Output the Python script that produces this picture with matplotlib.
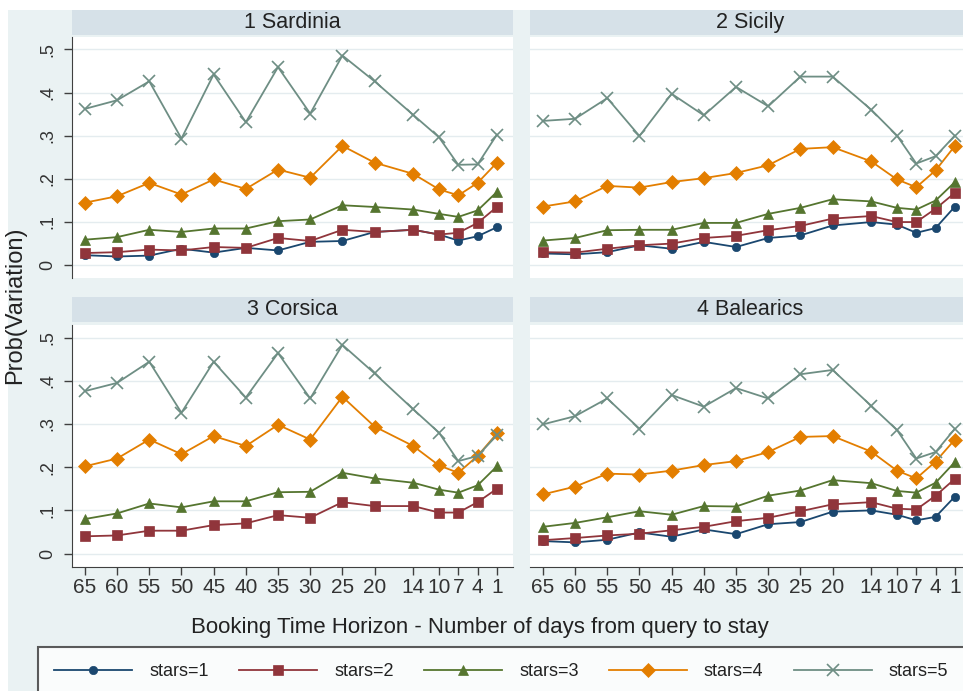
import numpy as np
import matplotlib
matplotlib.use("Agg")
import matplotlib.pyplot as plt
from matplotlib.patches import Rectangle
from matplotlib.lines import Line2D

plt.rcParams['font.family'] = ['Liberation Sans', 'DejaVu Sans']

# ── data ─────────────────────────────────────────────────────────────────────
days = [65, 60, 55, 50, 45, 40, 35, 30, 25, 20, 14, 10, 7, 4, 1]
regions = ['1 Sardinia', '2 Sicily', '3 Corsica', '4 Balearics']
star_labels = ['stars=1', 'stars=2', 'stars=3', 'stars=4', 'stars=5']

sardinia_s1 = [0.022, 0.019, 0.021, 0.037, 0.028, 0.039, 0.033, 0.053, 0.055, 0.076, 0.081, 0.070, 0.056, 0.066, 0.087]
sardinia_s2 = [0.027, 0.029, 0.035, 0.033, 0.041, 0.039, 0.062, 0.055, 0.081, 0.076, 0.081, 0.070, 0.074, 0.097, 0.134]
sardinia_s3 = [0.058, 0.064, 0.081, 0.076, 0.084, 0.084, 0.101, 0.105, 0.138, 0.134, 0.128, 0.118, 0.111, 0.126, 0.169]
sardinia_s4 = [0.144, 0.159, 0.190, 0.163, 0.198, 0.176, 0.221, 0.202, 0.276, 0.237, 0.211, 0.175, 0.161, 0.190, 0.237]
sardinia_s5 = [0.362, 0.382, 0.426, 0.293, 0.442, 0.331, 0.459, 0.351, 0.486, 0.426, 0.348, 0.296, 0.232, 0.233, 0.302]

sicily_s1 = [0.026, 0.024, 0.029, 0.045, 0.037, 0.053, 0.041, 0.062, 0.068, 0.091, 0.099, 0.093, 0.074, 0.085, 0.135]
sicily_s2 = [0.029, 0.028, 0.037, 0.045, 0.049, 0.062, 0.067, 0.080, 0.090, 0.107, 0.113, 0.099, 0.099, 0.130, 0.167]
sicily_s3 = [0.056, 0.062, 0.080, 0.081, 0.081, 0.097, 0.097, 0.118, 0.132, 0.152, 0.147, 0.132, 0.128, 0.149, 0.192]
sicily_s4 = [0.135, 0.147, 0.183, 0.179, 0.192, 0.201, 0.213, 0.231, 0.269, 0.273, 0.240, 0.198, 0.180, 0.219, 0.276]
sicily_s5 = [0.334, 0.339, 0.387, 0.299, 0.397, 0.347, 0.413, 0.368, 0.437, 0.437, 0.360, 0.300, 0.235, 0.252, 0.300]

# no 1-star series for Corsica
corsica_s1 = None
corsica_s2 = [0.040, 0.042, 0.053, 0.053, 0.066, 0.070, 0.089, 0.083, 0.119, 0.110, 0.110, 0.095, 0.095, 0.119, 0.150]
corsica_s3 = [0.080, 0.093, 0.116, 0.107, 0.121, 0.121, 0.142, 0.143, 0.187, 0.174, 0.164, 0.148, 0.141, 0.158, 0.202]
corsica_s4 = [0.202, 0.220, 0.264, 0.230, 0.272, 0.249, 0.298, 0.264, 0.363, 0.294, 0.249, 0.204, 0.187, 0.226, 0.278]
corsica_s5 = [0.376, 0.395, 0.444, 0.326, 0.444, 0.361, 0.464, 0.359, 0.483, 0.417, 0.334, 0.280, 0.214, 0.226, 0.274]

balearics_s1 = [0.029, 0.026, 0.032, 0.049, 0.039, 0.056, 0.045, 0.068, 0.073, 0.097, 0.100, 0.090, 0.077, 0.085, 0.132]
balearics_s2 = [0.031, 0.036, 0.042, 0.046, 0.054, 0.062, 0.075, 0.083, 0.098, 0.114, 0.119, 0.104, 0.102, 0.134, 0.173]
balearics_s3 = [0.062, 0.071, 0.084, 0.098, 0.090, 0.110, 0.109, 0.134, 0.146, 0.170, 0.163, 0.145, 0.141, 0.164, 0.212]
balearics_s4 = [0.137, 0.155, 0.185, 0.183, 0.192, 0.205, 0.214, 0.235, 0.270, 0.272, 0.236, 0.192, 0.174, 0.213, 0.264]
balearics_s5 = [0.299, 0.318, 0.359, 0.289, 0.367, 0.340, 0.383, 0.359, 0.415, 0.425, 0.342, 0.286, 0.220, 0.235, 0.289]

series = {
    '1 Sardinia': [sardinia_s1, sardinia_s2, sardinia_s3, sardinia_s4, sardinia_s5],
    '2 Sicily': [sicily_s1, sicily_s2, sicily_s3, sicily_s4, sicily_s5],
    '3 Corsica': [corsica_s1, corsica_s2, corsica_s3, corsica_s4, corsica_s5],
    '4 Balearics': [balearics_s1, balearics_s2, balearics_s3, balearics_s4, balearics_s5],
}

# ── style (Stata s2color look) ───────────────────────────────────────────────
COLORS  = ['#1A476F', '#90353B', '#55752F', '#E37E00', '#6E8E84']
MARKERS = ['o', 's', '^', 'D', 'x']
MSIZES  = [6, 6.5, 7, 7.5, 8]
BG      = '#EAF2F3'
STRIP   = '#D6E1E8'
AXCOL   = '#404040'

W, H = 963, 691


def px_rect(x0, y0, x1, y1):
    return [x0 / W, 1 - y1 / H, (x1 - x0) / W, (y1 - y0) / H]


fig = plt.figure(figsize=(W / 100, H / 100), dpi=100)
fig.patch.set_facecolor('white')
fig.add_artist(Rectangle((8 / W, 0), 1, 1 - 10 / H, transform=fig.transFigure,
                         facecolor=BG, edgecolor='none', zorder=-10))

# plot box and strip box of each panel, in pixels (x0, y0, x1, y1) from top-left;
# the right column runs past the image edge like the cropped reference
panel_px = {
    '1 Sardinia':  ((72, 37, 513, 278), (72, 10, 513, 35)),
    '2 Sicily':    ((530, 37, 971, 278), (530, 10, 971, 35)),
    '3 Corsica':   ((72, 325, 513, 567), (72, 297, 513, 322)),
    '4 Balearics': ((530, 325, 971, 567), (530, 297, 971, 322)),
}

yticks = [0, 0.1, 0.2, 0.3, 0.4, 0.5]
ytick_labels = ['0', '.1', '.2', '.3', '.4', '.5']

for k, reg in enumerate(regions):
    plot_box, strip_box = panel_px[reg]
    left_col = k % 2 == 0
    bottom_row = k >= 2

    sax = fig.add_axes(px_rect(*strip_box))
    sax.set_facecolor(STRIP)
    sax.set_xticks([]); sax.set_yticks([])
    for s in sax.spines.values():
        s.set_visible(False)
    sax.text(0.5, 0.5, reg, ha='center', va='center', fontsize=15.5, color='#222222',
             transform=sax.transAxes)

    ax = fig.add_axes(px_rect(*plot_box))
    ax.set_facecolor('white')
    for i, vals in enumerate(series[reg]):
        if vals is None:
            continue
        ax.plot(days, vals, color=COLORS[i], lw=1.3, marker=MARKERS[i], ms=MSIZES[i],
                mfc=COLORS[i], mec=COLORS[i], mew=1.2 if MARKERS[i] == 'x' else 0.5,
                zorder=3 + i, clip_on=False)

    ax.set_xlim(67, -1.5)
    ax.set_ylim(-0.031, 0.529)
    ax.set_yticks(yticks)
    ax.yaxis.grid(True, color='#E4ECEF', lw=1.0)
    ax.set_axisbelow(True)
    for s in ['top', 'right']:
        ax.spines[s].set_visible(False)
    ax.spines['left'].set_visible(left_col)
    ax.spines['bottom'].set_visible(bottom_row)
    ax.spines['left'].set_color(AXCOL)
    ax.spines['bottom'].set_color(AXCOL)

    if left_col:
        ax.set_yticklabels(ytick_labels, rotation=90, va='center', fontsize=13, color='#333333')
        ax.tick_params(axis='y', length=6, width=1, color=AXCOL, pad=5)
    else:
        ax.tick_params(axis='y', length=0, labelleft=False)

    ax.set_xticks(days)
    if bottom_row:
        ax.set_xticklabels([str(d) for d in days], fontsize=15, color='#333333')
        ax.tick_params(axis='x', length=6, width=1, color=AXCOL, pad=2)
    else:
        ax.tick_params(axis='x', length=0, labelbottom=False)

fig.text(480 / W, 1 - 627 / H, 'Booking Time Horizon - Number of days from query to stay',
         ha='center', va='center', fontsize=16, color='#222222')
fig.text(15 / W, 1 - 305 / H, 'Prob(Variation)', ha='center', va='center',
         rotation=90, fontsize=17, color='#222222')

handles = [Line2D([], [], color=COLORS[i], lw=1.3, marker=MARKERS[i], ms=MSIZES[i],
                  mfc=COLORS[i], mec=COLORS[i], mew=1.2 if MARKERS[i] == 'x' else 0.5)
           for i in range(5)]
leg = fig.legend(handles, star_labels, loc='upper left', bbox_to_anchor=(38 / W, 1 - 647 / H),
                 ncol=5, fontsize=13, frameon=True, fancybox=False, handlelength=4.3,
                 handletextpad=0.95, columnspacing=1.7, borderpad=0.9, borderaxespad=0,
                 numpoints=1)
leg.get_frame().set_edgecolor('#333333')
leg.get_frame().set_linewidth(1.5)
leg.get_frame().set_facecolor('white')
for t in leg.get_texts():
    t.set_color('#222222')

fig.savefig('out.png', dpi=100)
